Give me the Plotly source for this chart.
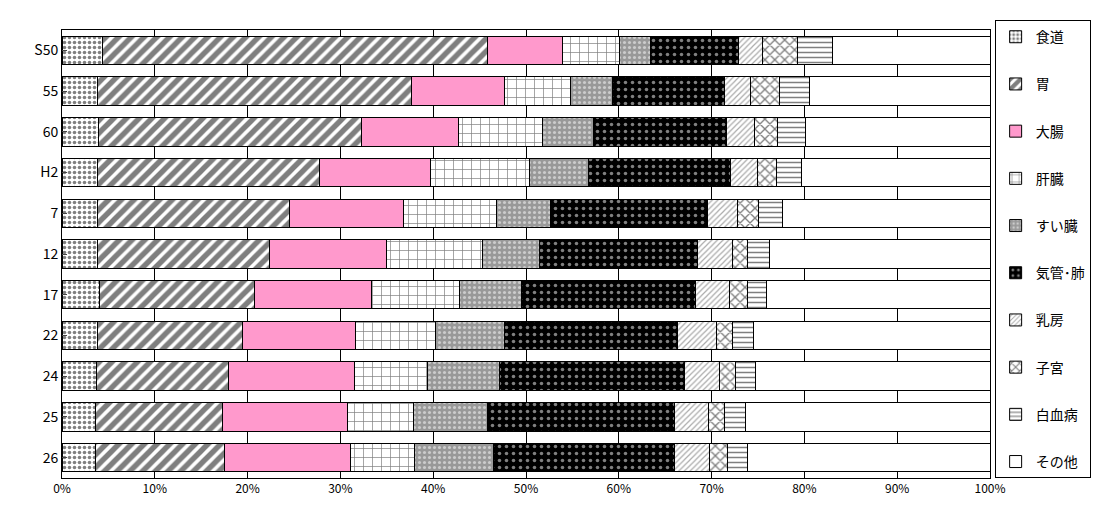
import plotly.graph_objects as go

years = ["S50", "55", "60", "H2", "7", "12", "17", "22", "24", "25", "26"]

# cumulative end position (%) of each site
cum_shokudo = [4.4, 3.8, 3.9, 3.8, 3.8, 3.8, 4.0, 3.8, 3.7, 3.6, 3.6]
cum_i = [45.8, 37.7, 32.3, 27.7, 24.5, 22.4, 20.7, 19.4, 17.9, 17.3, 17.5]
cum_daicho = [53.9, 47.7, 42.7, 39.7, 36.8, 35.0, 33.3, 31.6, 31.5, 30.8, 31.1]
cum_kanzo = [60.1, 54.8, 51.8, 50.4, 46.8, 45.3, 42.8, 40.3, 39.4, 37.9, 38.0]
cum_suizo = [63.4, 59.3, 57.3, 56.7, 52.6, 51.5, 49.5, 47.7, 47.1, 45.8, 46.5]
cum_kikan = [72.9, 71.4, 71.6, 72.0, 69.6, 68.5, 68.3, 66.3, 67.1, 66.0, 66.0]
cum_nyubo = [75.5, 74.2, 74.6, 74.9, 72.8, 72.2, 71.9, 70.5, 70.8, 69.7, 69.8]
cum_shikyu = [79.3, 77.3, 77.1, 77.0, 75.0, 73.9, 73.9, 72.2, 72.6, 71.4, 71.7]
cum_hakketsu = [83.0, 80.5, 80.1, 79.7, 77.6, 76.2, 75.9, 74.5, 74.7, 73.6, 73.9]

sites = ["食道", "胃", "大腸", "肝臓", "すい臓", "気管･肺", "乳房", "子宮", "白血病", "その他"]
cums = [cum_shokudo, cum_i, cum_daicho, cum_kanzo, cum_suizo, cum_kikan,
        cum_nyubo, cum_shikyu, cum_hakketsu, [100.0] * len(years)]

# (background, pattern shape, pattern colour, size, solidity)
styles = [
    ("white", ".", "black", 5, 0.4),
    ("white", "/", "black", 9, 0.6),
    ("#ff99cc", "", "black", 8, 0.3),
    ("white", "+", "black", 9, 0.15),
    ("#999999", ".", "white", 5, 0.3),
    ("black", ".", "white", 7, 0.2),
    ("white", "/", "#555555", 4, 0.3),
    ("white", "x", "black", 7, 0.35),
    ("white", "-", "black", 5, 0.3),
    ("white", "", "black", 8, 0.3),
]

fig = go.Figure()
prev = [0.0] * len(years)
for name, cum, (bg, shape, fg, size, sol) in zip(sites, cums, styles):
    vals = [round(c - p, 2) for c, p in zip(cum, prev)]
    prev = cum
    fig.add_trace(go.Bar(
        y=years, x=vals, name=name, orientation="h", legendgroup=name,
        marker=dict(color=bg, line=dict(color="black", width=1),
                    pattern=dict(shape=shape, fgcolor=fg, bgcolor=bg,
                                 size=size, solidity=sol, fillmode="overlay")),
    ))

fig.update_layout(
    barmode="stack", bargap=0.3,
    width=1101, height=522,
    margin=dict(l=54, r=119, t=15, b=52),
    plot_bgcolor="white", paper_bgcolor="white",
    font=dict(family="Noto Sans CJK JP", size=13, color="black"),
    legend=dict(x=1.005, y=1.022, xanchor="left", yanchor="top",
                traceorder="grouped", tracegroupgap=26, maxheight=1,
                bordercolor="black", borderwidth=1, font=dict(size=14),
                itemwidth=30),
)
fig.update_xaxes(range=[0, 100], dtick=10, ticksuffix="%", showgrid=True,
                 gridcolor="black", gridwidth=1, showline=True, linecolor="black",
                 mirror=True, zeroline=False, tickfont=dict(size=12))
fig.update_yaxes(autorange="reversed", showline=True, linecolor="black",
                 mirror=True, ticks="inside", ticklen=5, tickfont=dict(size=14))

fig.write_html("out.html")
